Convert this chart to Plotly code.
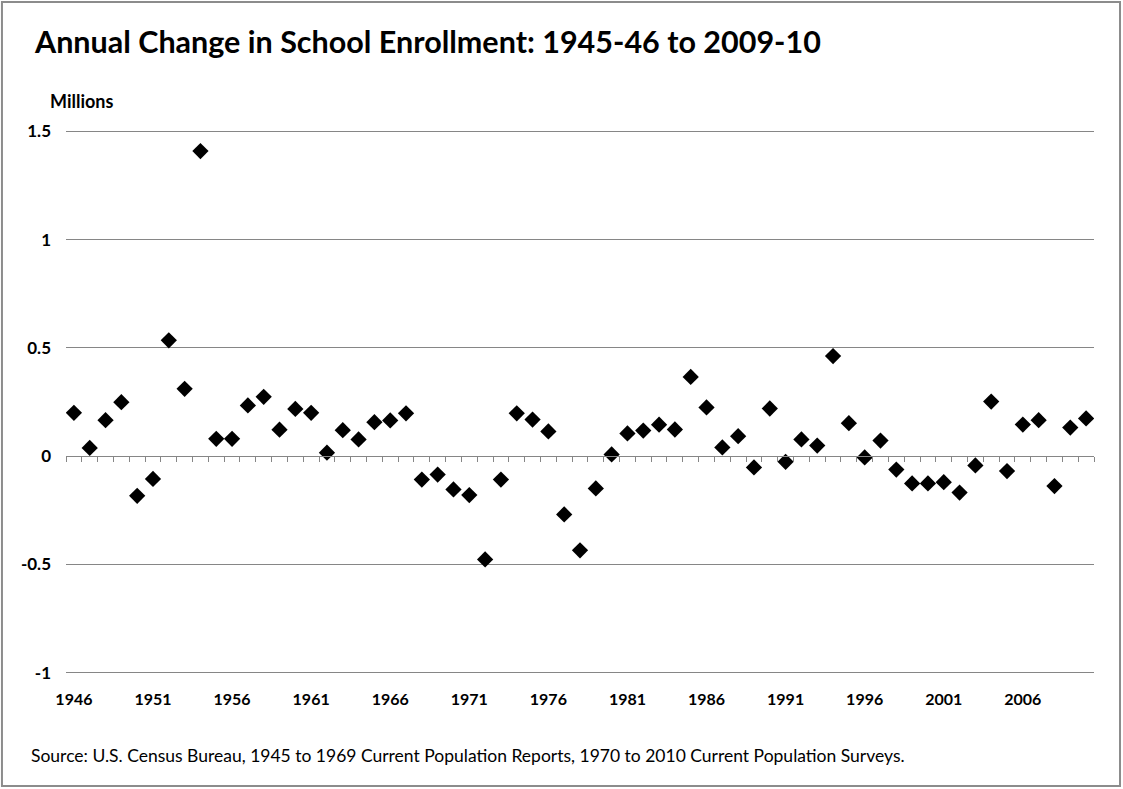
import plotly.graph_objects as go

# ------------------------------------------------------------
# data: annual change in school enrollment, millions
# ------------------------------------------------------------
years = list(range(1946, 2011))
change = [
    0.200, 0.038, 0.166, 0.249, -0.183, -0.105, 0.535, 0.311, 1.409, 0.080,
    0.080, 0.234, 0.274, 0.122, 0.218, 0.200, 0.016, 0.120, 0.077, 0.157,
    0.165, 0.198, -0.108, -0.085, -0.154, -0.180, -0.477, -0.108, 0.198, 0.169,
    0.114, -0.269, -0.435, -0.149, 0.008, 0.105, 0.118, 0.145, 0.123, 0.366,
    0.225, 0.040, 0.092, -0.052, 0.220, -0.026, 0.077, 0.049, 0.462, 0.152,
    -0.006, 0.072, -0.062, -0.126, -0.126, -0.120, -0.168, -0.043, 0.252, -0.069,
    0.146, 0.166, -0.138, 0.132, 0.174,
]
label_years = [1946, 1951, 1956, 1961, 1966, 1971, 1976, 1981, 1986, 1991, 1996, 2001, 2006]
y_ticks = [-1, -0.5, 0, 0.5, 1, 1.5]
y_ticktext = ["-1", "-0.5", "0", "0.5", "1", "1.5"]

title_text = "Annual Change in School Enrollment: 1945-46 to 2009-10"
source_text = ("Source: U.S. Census Bureau, 1945 to 1969 Current Population Reports, "
               "1970 to 2010 Current Population Surveys.")

FONT = "Lato, 'Open Sans', sans-serif"
GRID = "#868686"

# small pad so plotly keeps the gridlines at -1 and 1.5 (it drops ones on the edge)
y_range = [-1.006, 1.506]
zero_pos = -y_range[0] / (y_range[1] - y_range[0])

# category boundaries for the small tick marks on the zero line
boundaries = [y - 0.5 for y in years] + [years[-1] + 0.5]

fig = go.Figure()

fig.add_trace(go.Scatter(
    x=years, y=change, mode="markers",
    marker=dict(symbol="diamond", size=12.5, color="black"),
    showlegend=False, hoverinfo="x+y",
))
# empty trace so the label axis gets drawn
fig.add_trace(go.Scatter(x=[], y=[], xaxis="x2", showlegend=False))

fig.update_layout(
    width=1123, height=789,
    paper_bgcolor="white", plot_bgcolor="white",
    margin=dict(l=66, r=29, t=130, b=115),
    title=dict(
        text="<b>" + title_text + "</b>",
        font=dict(family=FONT, size=30.5, color="black"),
        xref="container", x=35 / 1123, xanchor="left",
        yref="container", y=1 - 42 / 789, yanchor="middle",
    ),
    # axis line at y=0 with a tick at every category boundary
    xaxis=dict(
        range=[1945.5, 2010.5], anchor="free", position=zero_pos,
        showline=True, linecolor=GRID, linewidth=1,
        ticks="outside", ticklen=5, tickcolor=GRID, tickwidth=1,
        tickvals=boundaries, showticklabels=False,
        showgrid=False, zeroline=False,
    ),
    # year labels along the bottom
    xaxis2=dict(
        overlaying="x", matches="x", anchor="y", side="bottom",
        tickvals=label_years, ticktext=[str(v) for v in label_years],
        tickfont=dict(family=FONT, size=16, color="black", weight="bold"),
        ticks="", showline=False, showgrid=False, zeroline=False,
        ticklabelstandoff=14,
    ),
    yaxis=dict(
        range=y_range, tickvals=y_ticks, ticktext=y_ticktext,
        tickfont=dict(family=FONT, size=17, color="black", weight="bold"),
        showgrid=True, gridcolor=GRID, gridwidth=1,
        zeroline=False, showline=False, ticks="",
        ticklabelstandoff=14,
    ),
    annotations=[
        dict(text="<b>Millions</b>", xref="paper", yref="paper",
             x=0, y=1, xanchor="left", yanchor="middle",
             xshift=-18, yshift=29, showarrow=False,
             font=dict(family=FONT, size=18, color="black")),
        dict(text=source_text, xref="paper", yref="paper",
             x=0, y=0, xanchor="left", yanchor="middle",
             xshift=-37, yshift=-81, showarrow=False,
             font=dict(family=FONT, size=17.5, color="black")),
    ],
    shapes=[
        dict(type="rect", xref="paper", yref="paper",
             x0=-0.0623, x1=1.0253, y0=-0.2059, y1=1.2353,
             line=dict(color="#8c8c8c", width=2), fillcolor="rgba(0,0,0,0)",
             layer="below"),
    ],
)

# drop the page's default body margin so the figure sits at the window origin
fig.write_html(
    "out.html",
    config={"displayModeBar": False},
    post_script="document.body.style.margin='0';document.body.style.overflow='hidden';",
)
